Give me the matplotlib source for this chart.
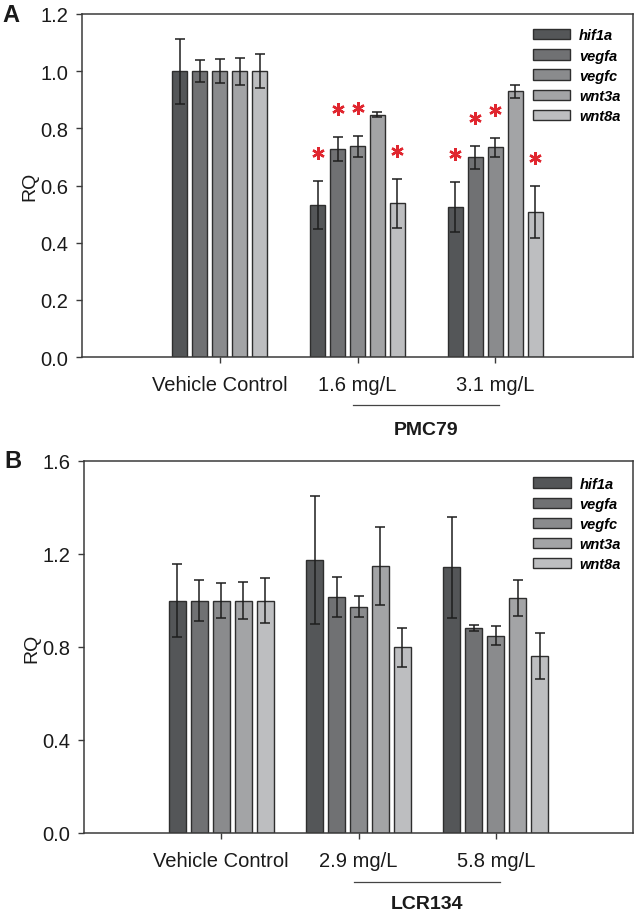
import matplotlib
matplotlib.use("Agg")
import matplotlib.pyplot as plt
from matplotlib.lines import Line2D
import numpy as np

plt.rcParams['font.family'] = ['Liberation Sans', 'DejaVu Sans']

genes = ['hif1a', 'vegfa', 'vegfc', 'wnt3a', 'wnt8a']
colors = ['#545658', '#707173', '#8a8b8d', '#a3a4a6', '#bdbec0']

# Panel A (PMC79)
groups_a = ['Vehicle Control', '1.6 mg/L', '3.1 mg/L']
vals_a = {
    'hif1a': [1.00, 0.532, 0.526],
    'vegfa': [1.00, 0.727, 0.698],
    'vegfc': [1.00, 0.737, 0.733],
    'wnt3a': [1.00, 0.848, 0.929],
    'wnt8a': [1.00, 0.538, 0.508],
}
errs_a = {
    'hif1a': [0.114, 0.085, 0.087],
    'vegfa': [0.038, 0.042, 0.040],
    'vegfc': [0.043, 0.037, 0.033],
    'wnt3a': [0.047, 0.008, 0.024],
    'wnt8a': [0.060, 0.085, 0.090],
}
sig_a = {
    'hif1a': [False, True, True],
    'vegfa': [False, True, True],
    'vegfc': [False, True, True],
    'wnt3a': [False, False, False],
    'wnt8a': [False, True, True],
}
yticks_a = [0.0, 0.2, 0.4, 0.6, 0.8, 1.0, 1.2]

# Panel B (LCR134)
groups_b = ['Vehicle Control', '2.9 mg/L', '5.8 mg/L']
vals_b = {
    'hif1a': [1.00, 1.174, 1.142],
    'vegfa': [1.00, 1.013, 0.882],
    'vegfc': [1.00, 0.974, 0.849],
    'wnt3a': [1.00, 1.148, 1.011],
    'wnt8a': [1.00, 0.798, 0.761],
}
errs_b = {
    'hif1a': [0.159, 0.277, 0.218],
    'vegfa': [0.089, 0.086, 0.013],
    'vegfc': [0.076, 0.045, 0.042],
    'wnt3a': [0.081, 0.169, 0.077],
    'wnt8a': [0.097, 0.085, 0.100],
}
yticks_b = [0.0, 0.4, 0.8, 1.2, 1.6]

fig = plt.figure(figsize=(6.34, 9.12), dpi=100)
axA = fig.add_axes([82/634, 1-358/912, 551/634, 343/912])
axB = fig.add_axes([84/634, 1-834/912, 549/634, 372/912])

spine_c = '#3a3a3a'

def draw(ax, groups, vals, errs, sig, yticks, ymax, pitch, width, treatment, line_y, lab_y, letter):
    x = np.arange(len(groups))
    handles = []
    for i, g in enumerate(genes):
        pos = x + (i - 2) * pitch
        b = ax.bar(pos, vals[g], width, color=colors[i], edgecolor='#2e2e2e', linewidth=1.0,
                   yerr=errs[g], capsize=3.6,
                   error_kw=dict(ecolor='#1e1e1e', elinewidth=1.1, capthick=1.1), zorder=2,
                   label=g)
        handles.append(b)
        if sig is not None:
            for j in range(len(groups)):
                if sig[g][j]:
                    ax.plot(pos[j], vals[g][j] + errs[g][j] + 0.097 * ymax / 1.2, marker=(6, 2, 0),
                            ms=9, mew=1.7, color='#e0262f', zorder=3, clip_on=False)
    ax.set_xlim(-1, 3)
    ax.set_ylim(0, ymax)
    ax.set_yticks(yticks)
    ax.set_yticklabels(['%.1f' % t for t in yticks])
    ax.set_xticks(x)
    ax.set_xticklabels(groups, fontsize=14.5)
    for s in ax.spines.values():
        s.set_color(spine_c)
        s.set_linewidth(1.1)
    ax.tick_params(axis='both', colors=spine_c, labelcolor='#1a1a1a', length=4, width=1.0)
    ax.tick_params(axis='y', pad=6, labelsize=14.5)
    ax.tick_params(axis='x', pad=9)
    ax.set_ylabel('RQ', fontsize=14, color='#1a1a1a')
    ax.yaxis.set_label_coords(-0.08, 0.5)
    leg = ax.legend(handles=handles, loc='upper left', bbox_to_anchor=(0.8185, 0.958),
                    frameon=False, borderpad=0, borderaxespad=0, handlelength=2.55,
                    handleheight=0.7, handletextpad=0.6, labelspacing=0.42,
                    prop=dict(size=10.5, weight='bold', style='italic'))
    ax.add_line(Line2D([0.97, 2.03], [line_y, line_y], transform=ax.get_xaxis_transform(),
                       color='#444444', lw=0.9, clip_on=False))
    ax.text(1.5, lab_y, treatment, transform=ax.get_xaxis_transform(), ha='center', va='center',
            fontsize=14, fontweight='bold', color='#1a1a1a')
    ax.text(-0.145, 1.0, letter, transform=ax.transAxes, ha='left', va='center',
            fontsize=17, fontweight='bold', color='#1a1a1a')

draw(axA, groups_a, vals_a, errs_a, sig_a, yticks_a, 1.2, 0.145, 0.11, 'PMC79', -0.14, -0.21, 'A')
draw(axB, groups_b, vals_b, errs_b, None, yticks_b, 1.6, 0.16, 0.122, 'LCR134', -0.132, -0.19, 'B')

fig.savefig('out.png', dpi=100)
